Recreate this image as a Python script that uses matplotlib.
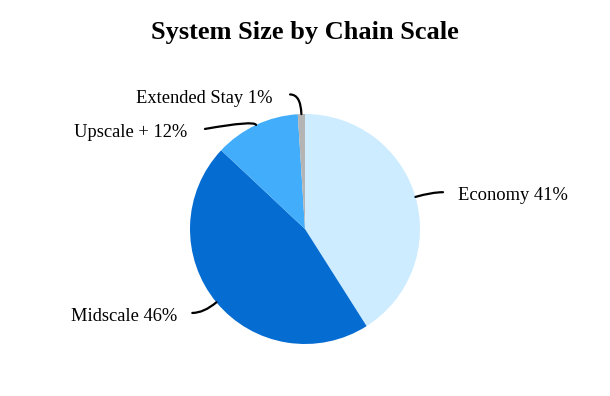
import matplotlib
matplotlib.use("Agg")
import matplotlib.pyplot as plt
import numpy as np

labels = ["Economy", "Midscale", "Upscale +", "Extended Stay"]
shares = [41, 46, 12, 1]
colors = ["#cdecff", "#056cd2", "#42adfb", "#b4b4b4"]

# label placement (data coords, pie radius = 1)
line_ends = [(1.20, 0.32), (-0.98, -0.73), (-0.87, 0.87), (-0.13, 1.17)]
text_pos = [(1.33, 0.295), (-1.11, -0.765), (-1.02, 0.835), (-0.28, 1.135)]
text_ha = ["left", "right", "right", "right"]
leader_angles = [(0, 16), (0, 40), (10, 107), (0, 92)]

plt.rcParams["font.family"] = ["Liberation Serif", "DejaVu Serif"]

fig = plt.figure(figsize=(6.1, 3.96), dpi=100)
r_px = 115
cx, cy = 305, 229
ax = fig.add_axes([(cx - r_px) / 610, (396 - cy - r_px) / 396, 2 * r_px / 610, 2 * r_px / 396])

wedges, _ = ax.pie(shares, colors=colors, startangle=90, counterclock=False,
                   radius=1, wedgeprops=dict(linewidth=0))
ax.set_xlim(-1, 1)
ax.set_ylim(-1, 1)
ax.set_aspect("equal")
ax.axis("off")

for w, lab, val, le, tp, ha, (a1, a2) in zip(wedges, labels, shares, line_ends,
                                              text_pos, text_ha, leader_angles):
    ang = np.deg2rad((w.theta1 + w.theta2) / 2)
    edge = (np.cos(ang), np.sin(ang))
    ax.annotate("", xy=edge, xytext=le,
                arrowprops=dict(arrowstyle="-", color="black", lw=1.6,
                                connectionstyle=f"angle3,angleA={a1},angleB={a2}",
                                shrinkA=0, shrinkB=0),
                annotation_clip=False)
    ax.text(tp[0], tp[1], f"{lab} {val}%", ha=ha, va="center",
            fontsize=13.3, clip_on=False)

fig.text(0.5, 1 - 32 / 396, "System Size by Chain Scale", ha="center", va="center",
         fontsize=19, fontweight="bold")

fig.savefig("out.png", dpi=100)
